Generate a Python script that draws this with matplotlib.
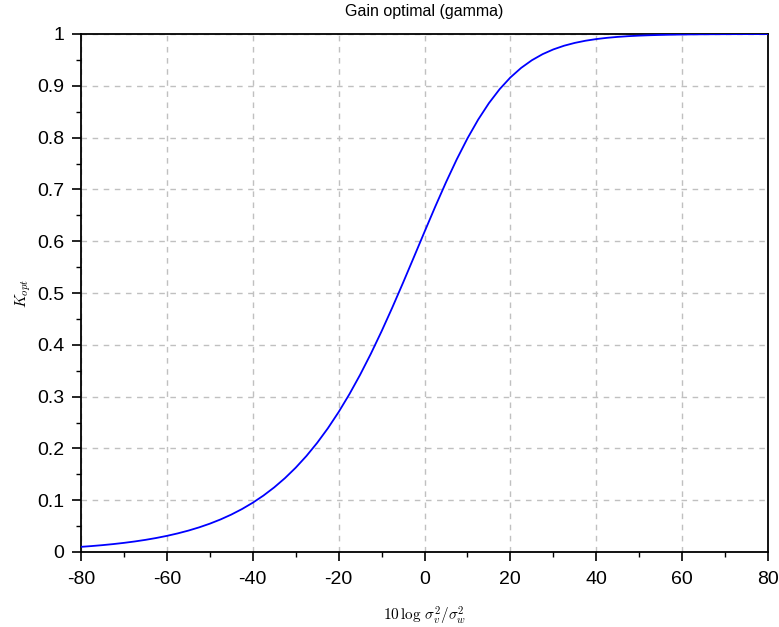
import matplotlib
matplotlib.use("Agg")
import matplotlib.pyplot as plt
from matplotlib.ticker import MultipleLocator, FuncFormatter

# Values
snr_db = [-80, -77.5, -75, -72.5, -70, -67.5, -65, -62.5, -60, -57.5, -55, -52.5,
          -50, -47.5, -45, -42.5, -40, -37.5, -35, -32.5, -30, -27.5, -25, -22.5,
          -20, -17.5, -15, -12.5, -10, -7.5, -5, -2.5, 0, 2.5, 5, 7.5, 10, 12.5,
          15, 17.5, 20, 22.5, 25, 27.5, 30, 32.5, 35, 37.5, 40, 42.5, 45, 47.5,
          50, 52.5, 55, 57.5, 60, 62.5, 65, 67.5, 70, 72.5, 75, 77.5, 80]
k_opt = [0.00995, 0.01148, 0.01325, 0.01528, 0.01763, 0.02032, 0.02343, 0.02701,
         0.03113, 0.03586, 0.04129, 0.04753, 0.05468, 0.06286, 0.07223, 0.08293,
         0.09513, 0.10900, 0.12476, 0.14259, 0.16272, 0.18535, 0.21068, 0.23890,
         0.27016, 0.30454, 0.34206, 0.38263, 0.42603, 0.47191, 0.51970, 0.56871,
         0.61803, 0.66669, 0.71362, 0.75782, 0.79842, 0.83476, 0.86649, 0.89353,
         0.91608, 0.93451, 0.94932, 0.96106, 0.97023, 0.97735, 0.98282, 0.98701,
         0.99020, 0.99261, 0.99444, 0.99582, 0.99686, 0.99764, 0.99823, 0.99867,
         0.99900, 0.99925, 0.99944, 0.99958, 0.99968, 0.99976, 0.99982, 0.99987,
         0.99990]

title = "Gain optimal (gamma)"
xlabel = r"$10\,\log\,\sigma_v^2/\sigma_w^2$"
ylabel = r"$K_{opt}$"

plt.rcParams['font.family'] = ['Liberation Sans', 'DejaVu Sans']
plt.rcParams['mathtext.fontset'] = 'cm'

fig = plt.figure(figsize=(7.79, 6.27), dpi=100)
ax = fig.add_axes([81/779, 1 - 552/627, (768 - 81)/779, (552 - 34)/627])

ax.plot(snr_db, k_opt, color=(0, 0, 1), lw=1.3, zorder=3)

ax.set_xlim(-80, 80)
ax.set_ylim(0, 1)
ax.xaxis.set_major_locator(MultipleLocator(20))
ax.xaxis.set_minor_locator(MultipleLocator(10))
ax.yaxis.set_major_locator(MultipleLocator(0.1))
ax.yaxis.set_minor_locator(MultipleLocator(0.05))
fmt = FuncFormatter(lambda v, p: "%g" % round(v, 6))
ax.xaxis.set_major_formatter(fmt)
ax.yaxis.set_major_formatter(fmt)

ax.grid(True, which='major', color='#c0c0c0', linestyle=(0, (4, 4)), lw=1.0)
ax.tick_params(which='major', direction='out', length=6.5, width=1.2, labelsize=14,
               colors='black')
ax.tick_params(axis='y', which='major', pad=5.5)
ax.tick_params(axis='x', which='major', pad=7)
ax.tick_params(which='minor', direction='out', length=3.5, width=1.0)
for s in ax.spines.values():
    s.set_linewidth(1.3)
    s.set_color('black')

ax.set_title(title, fontsize=11.5, pad=13)
ax.set_xlabel(xlabel, fontsize=11, labelpad=12)
ax.set_ylabel(ylabel, fontsize=11, labelpad=3)

fig.savefig("out.png", dpi=100)
